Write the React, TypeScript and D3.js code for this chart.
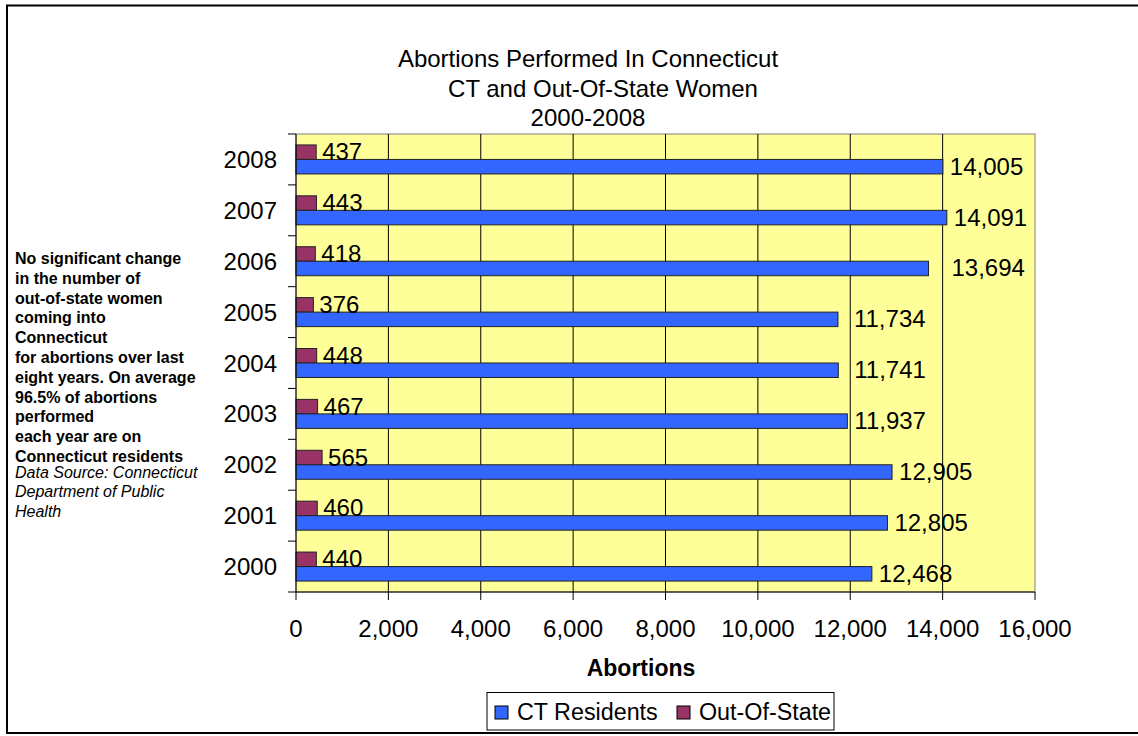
import * as React from 'react';
import * as d3 from 'd3';

// Abortions performed in Connecticut, 2000-2008
const years = ['2000', '2001', '2002', '2003', '2004', '2005', '2006', '2007', '2008'];
const ctResidents = [12468, 12805, 12905, 11937, 11741, 11734, 13694, 14091, 14005];
const outOfState = [440, 460, 565, 467, 448, 376, 418, 443, 437];
const xTicks = [0, 2000, 4000, 6000, 8000, 10000, 12000, 14000, 16000];
const seriesNames = ['CT Residents', 'Out-Of-State'];
const titleLines = ['Abortions Performed In Connecticut', 'CT and Out-Of-State Women', '2000-2008'];
const noteLines = [
  'No significant change',
  'in the number of',
  'out-of-state women',
  'coming into',
  'Connecticut',
  'for abortions over last',
  'eight years. On average',
  '96.5% of abortions',
  'performed',
  'each year are on',
  'Connecticut residents',
];
const sourceLines = ['Data Source: Connecticut', 'Department of Public', 'Health'];

const FONT = '"Liberation Sans", Arial, sans-serif';
const BLUE = '#3366FF';
const MAROON = '#993366';
const fmt = d3.format(',');

const App = () => {
  const W = 1138;
  const H = 736;
  const plot = { left: 296, right: 1035, top: 134, bottom: 592 };

  const x = d3.scaleLinear().domain([0, 16000]).range([plot.left, plot.right]);
  const y = d3.scaleBand()
    .domain([...years].reverse())
    .range([plot.top, plot.bottom])
    .paddingInner(0.43)
    .paddingOuter(0.215);
  const sub = d3.scaleBand().domain(['out', 'ct']).range([0, y.bandwidth()]);
  const gapHalf = (y.step() - y.bandwidth()) / 2;

  // a few CT labels sit further right in the original
  const ctLabelShift: Record<string, number> = { '2006': 16, '2005': 9, '2004': 9 };

  const rows = years.map((yr, i) => ({ yr, ct: ctResidents[i], out: outOfState[i] }));

  return (
    <svg width={W} height={H} style={{ position: 'absolute', left: 0, top: 0 }} fontFamily={FONT}>
      <rect x={0} y={0} width={W} height={H} fill="#fff" />
      <rect x={7} y={5.5} width={W + 10} height={727.5} fill="none" stroke="#000" strokeWidth={2} />

      {/* title */}
      {titleLines.map((t, i) => (
        <text key={t} x={i === 1 ? 603 : 588} y={67 + i * 29.5} fontSize={24} textAnchor="middle" fill="#000">
          {t}
        </text>
      ))}

      {/* plot background */}
      <rect x={plot.left} y={plot.top} width={plot.right - plot.left} height={plot.bottom - plot.top}
        fill="#FFFF99" stroke="#808080" strokeWidth={1} />

      {/* vertical gridlines */}
      {xTicks.slice(1, -1).map(t => (
        <line key={t} x1={x(t)} x2={x(t)} y1={plot.top} y2={plot.bottom} stroke="#000" strokeWidth={1} />
      ))}

      {/* bars */}
      {rows.map(d => {
        const y0 = y(d.yr) as number;
        const yo = y0 + (sub('out') as number);
        const yc = y0 + (sub('ct') as number);
        const bh = sub.bandwidth();
        return (
          <g key={d.yr}>
            <rect x={x(0)} y={yo} width={x(d.out) - x(0)} height={bh} fill={MAROON} stroke="#222" strokeWidth={1} />
            <rect x={x(0)} y={yc} width={x(d.ct) - x(0)} height={bh} fill={BLUE} stroke="#222" strokeWidth={1} />
            <text x={x(d.out) + 6} y={yo + bh / 2 + 8} fontSize={24} fill="#000">{fmt(d.out)}</text>
            <text x={x(d.ct) + 7 + (ctLabelShift[d.yr] || 0)} y={yc + bh / 2 + 8} fontSize={24} fill="#000">
              {fmt(d.ct)}
            </text>
          </g>
        );
      })}

      {/* y axis */}
      <line x1={plot.left} x2={plot.left} y1={plot.top} y2={plot.bottom} stroke="#000" strokeWidth={1} />
      {years.map(yr => (
        <line key={'t' + yr} x1={plot.left - 8} x2={plot.left}
          y1={(y(yr) as number) - gapHalf} y2={(y(yr) as number) - gapHalf} stroke="#000" />
      ))}
      <line x1={plot.left - 8} x2={plot.left} y1={plot.bottom} y2={plot.bottom} stroke="#000" />
      {years.map(yr => (
        <text key={'l' + yr} x={277} y={(y(yr) as number) + y.bandwidth() / 2 + 8.5}
          fontSize={24} textAnchor="end" fill="#000">{yr}</text>
      ))}

      {/* x axis */}
      <line x1={plot.left} x2={plot.right} y1={plot.bottom} y2={plot.bottom} stroke="#000" strokeWidth={1} />
      {xTicks.map(t => (
        <g key={t}>
          <line x1={x(t)} x2={x(t)} y1={plot.bottom} y2={plot.bottom + 8} stroke="#000" />
          <text x={x(t)} y={637} fontSize={24} textAnchor="middle" fill="#000">{fmt(t)}</text>
        </g>
      ))}
      <text x={641} y={676} fontSize={23} fontWeight="bold" textAnchor="middle" fill="#000">Abortions</text>

      {/* left note */}
      {noteLines.map((t, i) => (
        <text key={t} x={15} y={264 + i * 19.8} fontSize={16} fontWeight="bold" fill="#000">{t}</text>
      ))}
      {sourceLines.map((t, i) => (
        <text key={t} x={15} y={262 + (noteLines.length + i) * 19.6} fontSize={16} fontStyle="italic" fill="#000">{t}</text>
      ))}

      {/* legend */}
      <rect x={487} y={692.5} width={347} height={37.5} fill="#fff" stroke="#000" strokeWidth={1} />
      {seriesNames.map((s, i) => {
        const lx = i === 0 ? 495 : 677;
        return (
          <g key={s}>
            <rect x={lx} y={706} width={13} height={13} fill={i === 0 ? BLUE : MAROON} stroke="#000" strokeWidth={1} />
            <text x={lx + 22} y={720} fontSize={23.3} fill="#000">{s}</text>
          </g>
        );
      })}
    </svg>
  );
};

export default App;
